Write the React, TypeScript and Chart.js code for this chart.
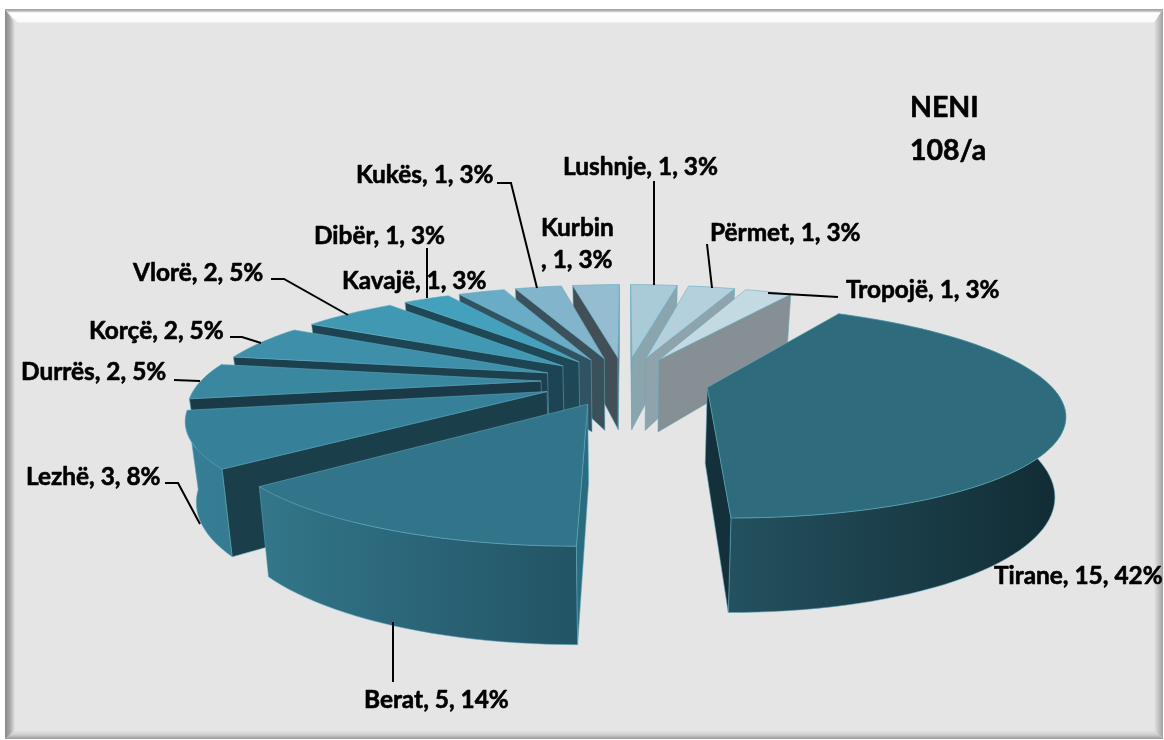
import React, { useEffect, useRef } from "react";
import { Chart, registerables } from "chart.js";

Chart.register(...registerables);

const categories = ["Tirane", "Berat", "Lezhë", "Durrës", "Korçë", "Vlorë", "Dibër", "Kavajë", "Kukës", "Kurbin", "Lushnje", "Përmet", "Tropojë"];
const values = [15, 5, 3, 2, 2, 2, 1, 1, 1, 1, 1, 1, 1];
const percents = [42, 14, 8, 5, 5, 5, 3, 3, 3, 3, 3, 3, 3];
const titleLines = ["NENI", "108/a"];

const topColors = ["#2e6b7d", "#32758a", "#36809a", "#3a87a0", "#3e8fa9", "#4198b3", "#44a1bd", "#6aacc5", "#82b5cb", "#95bdd1", "#a9cad7", "#b5d0dd", "#c4dae3"];
const wallColors = ["#14303a", "#2b6b7e", "#1a3f4a", "#1a3a47", "#1c404d", "#1d4452", "#1e4856", "#2f5361", "#3a515c", "#424f56", "#8ba5af", "#8fa3ac", "#858f94"];
const rimFrom = ["#24515f", "#33768a", "#367e96", "#3a87a0", "#3e8fa9", "#4198b3", "#44a1bd", "#6aacc5", "#82b5cb", "#95bdd1", "#a9cad7", "#b5d0dd", "#c4dae3"];
const rimTo = ["#112b33", "#225465", "#357b92", "#3a87a0", "#3e8fa9", "#4198b3", "#44a1bd", "#6aacc5", "#82b5cb", "#95bdd1", "#a9cad7", "#b5d0dd", "#c4dae3"];

// label placement: [text left, text middle] in page pixels, one per category
const labelSpots: [number, number][] = [
  [994, 576], [364, 700], [26, 477], [21, 372], [89, 331], [133, 273], [314, 236], [342, 281], [356, 175], [541, 228], [563, 167], [710, 233], [846, 290],
];
const leaders: number[][] = [
  [], [393, 622, 393, 682], [165, 483, 178, 483, 200, 524], [174, 380, 200, 381], [230, 337, 242, 337, 261, 343], [271, 279, 284, 279, 348, 315],
  [427, 248, 427, 298], [], [497, 183, 511, 183, 537, 288], [], [654, 181, 654, 285], [707, 244, 712, 288], [838, 297, 768, 293],
];

const PERSP = 0.22; // far/near perspective strength
const ASPECT = 0.29; // vertical squash of the pie plane
const DEPTH = 75; // wall height in pixels at the centre
const CONVERGE = 0.025; // walls lean inward toward the bottom
const LABEL_FONT = "bold 24.4px Lato";
const TITLE_FONT = "bold 28.5px Lato";

function frame(ctx: CanvasRenderingContext2D) {
  const L = 5, T = 9, R = 1163, B = 739;
  ctx.fillStyle = "#ffffff";
  ctx.fillRect(0, 0, 1164, 740);
  ctx.fillStyle = "#e5e5e5";
  ctx.fillRect(L, T, R - L, B - T);
  const band = (x0: number, y0: number, x1: number, y1: number, stops: [number, string][], poly: number[]) => {
    const g = ctx.createLinearGradient(x0, y0, x1, y1);
    stops.forEach(([o, c]) => g.addColorStop(o, c));
    ctx.fillStyle = g;
    ctx.beginPath();
    ctx.moveTo(poly[0], poly[1]);
    for (let i = 2; i < poly.length; i += 2) ctx.lineTo(poly[i], poly[i + 1]);
    ctx.closePath();
    ctx.fill();
  };
  band(L, 0, L + 10, 0, [[0, "#8a8a8a"], [0.5, "#a8a8a8"], [1, "#e5e5e5"]], [L, T, L + 10, T + 14, L + 10, B - 8, L, B]);
  band(0, T, 0, T + 15, [[0, "#9a9a9a"], [0.17, "#c8c8c8"], [0.25, "#ffffff"], [0.85, "#fbfbfb"], [0.95, "#e5e5e5"]], [L, T, R, T, R - 10, T + 15, L + 14, T + 15]);
  band(R - 9, 0, R, 0, [[0, "#e5e5e5"], [1, "#a0a0a0"]], [R, T, R - 9, T + 14, R - 9, B - 8, R, B]);
  band(0, B - 9, 0, B, [[0, "#e5e5e5"], [0.5, "#d0d0d0"], [1, "#9a9a9a"]], [L, B, L + 10, B - 9, R - 9, B - 9, R, B]);
}

const pie3d = {
  id: "pie3d",
  beforeDraw(chart: any) {
    frame(chart.ctx);
  },
  beforeDatasetDraw(chart: any) {
    const ctx: CanvasRenderingContext2D = chart.ctx;
    const arcs = chart.getDatasetMeta(0).data.map((arc: any, i: number) => ({ arc, i }));
    const midOf = (a: any) => (a.startAngle + a.endAngle) / 2;
    arcs.sort((p: any, q: any) => Math.sin(midOf(p.arc)) - Math.sin(midOf(q.arc)));
    ctx.save();
    ctx.lineWidth = 1;
    ctx.lineJoin = "round";
    ctx.strokeStyle = "rgba(95,170,190,0.55)";
    for (const { arc, i } of arcs) {
      const R: number = arc.outerRadius;
      const e = arc.options.offset / R;
      const mid = midOf(arc);
      const ax = e * Math.cos(mid);
      const ay = e * Math.sin(mid);
      const proj = (u: number, v: number, z: number): [number, number] => {
        const k = 1 / (1 - PERSP * v);
        return [arc.x + R * u * k * (1 - CONVERGE * z), arc.y + R * ASPECT * v * k + DEPTH * Math.pow(k, 0.87) * z];
      };
      const steps = Math.max(4, Math.ceil(((arc.endAngle - arc.startAngle) * 180) / Math.PI / 2));
      const rimT: [number, number][] = [];
      const rimB: [number, number][] = [];
      for (let s = 0; s <= steps; s++) {
        const t = arc.startAngle + ((arc.endAngle - arc.startAngle) * s) / steps;
        rimT.push(proj(ax + Math.cos(t), ay + Math.sin(t), 0));
        rimB.push(proj(ax + Math.cos(t), ay + Math.sin(t), 1));
      }
      const apexT = proj(ax, ay, 0);
      const apexB = proj(ax, ay, 1);
      const path = (pts: [number, number][]) => {
        ctx.beginPath();
        pts.forEach((p, n) => (n ? ctx.lineTo(p[0], p[1]) : ctx.moveTo(p[0], p[1])));
        ctx.closePath();
      };
      const area = (pts: [number, number][]) =>
        pts.reduce((acc, p, n) => {
          const q = pts[(n + 1) % pts.length];
          return acc + p[0] * q[1] - q[0] * p[1];
        }, 0);
      // rim first, so that the radial walls cover the part that turns away
      if (Math.sin(mid) > -0.2) {
        const xs = rimB.map((p) => p[0]).concat(rimT.map((p) => p[0]));
        const g = ctx.createLinearGradient(Math.min(...xs), 0, Math.max(...xs), 0);
        g.addColorStop(0, rimFrom[i]);
        g.addColorStop(1, rimTo[i]);
        ctx.fillStyle = g;
        path([...rimT, ...rimB.slice().reverse()]);
        ctx.fill();
        ctx.stroke();
      }
      const startWall: [number, number][] = [apexT, rimT[0], rimB[0], apexB];
      const endWall: [number, number][] = [apexT, rimT[steps], rimB[steps], apexB];
      ctx.fillStyle = wallColors[i];
      if (area(startWall) < 0) {
        path(startWall);
        ctx.fill();
        ctx.stroke();
      }
      if (area(endWall) > 0) {
        path(endWall);
        ctx.fill();
        ctx.stroke();
      }
      ctx.fillStyle = topColors[i];
      path([apexT, ...rimT]);
      ctx.fill();
      ctx.stroke();
    }
    ctx.restore();
    return false;
  },
  afterDraw(chart: any) {
    const ctx: CanvasRenderingContext2D = chart.ctx;
    ctx.save();
    ctx.strokeStyle = "#000";
    ctx.lineWidth = 2;
    leaders.forEach((l) => {
      if (!l.length) return;
      ctx.beginPath();
      ctx.moveTo(l[0], l[1]);
      for (let n = 2; n < l.length; n += 2) ctx.lineTo(l[n], l[n + 1]);
      ctx.stroke();
    });
    ctx.fillStyle = "#000";
    ctx.textBaseline = "middle";
    ctx.lineWidth = 0.6;
    ctx.lineJoin = "round";
    const put = (t: string, x: number, y: number) => {
      ctx.fillText(t, x, y);
      ctx.strokeText(t, x, y);
    };
    ctx.font = LABEL_FONT;
    categories.forEach((c, i) => {
      const [x, y] = labelSpots[i];
      const tail = `, ${values[i]}, ${percents[i]}%`;
      if (c === "Kurbin") {
        put(c, x, y);
        put(tail, x, y + 32);
      } else {
        put(c + tail, x, y);
      }
    });
    ctx.font = TITLE_FONT;
    put(titleLines[0], 910, 108);
    put(titleLines[1], 910, 151);
    ctx.restore();
  },
};

export default function App() {
  const ref = useRef<HTMLCanvasElement>(null);
  useEffect(() => {
    document.body.style.margin = "0";
    const chart = new Chart(ref.current!, {
      type: "pie",
      data: {
        labels: categories,
        datasets: [{ data: values, backgroundColor: topColors, offset: 84, borderWidth: 0 }],
      },
      options: {
        responsive: false,
        animation: false,
        rotation: 30,
        radius: 340,
        layout: { padding: { left: 86, top: 22 } },
        plugins: { legend: { display: false }, tooltip: { enabled: false } },
      },
      plugins: [pie3d],
    } as any);
    return () => chart.destroy();
  }, []);
  return <canvas ref={ref} width={1164} height={740} style={{ display: "block" }} />;
}
